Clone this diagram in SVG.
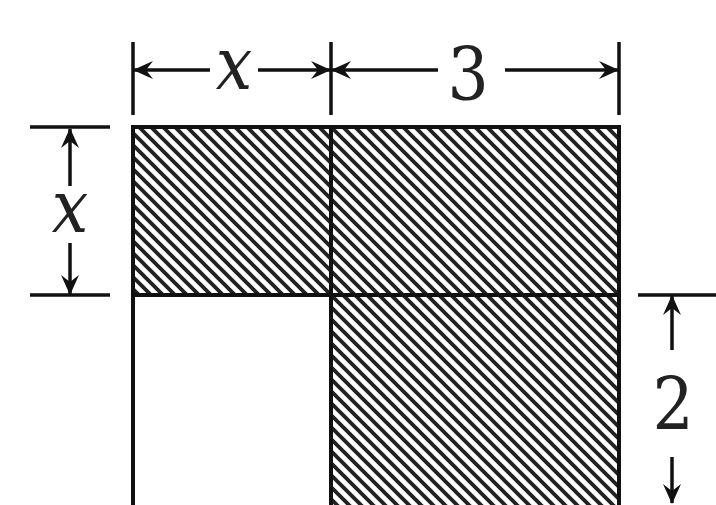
<svg xmlns="http://www.w3.org/2000/svg" width="716" height="505" viewBox="0 0 716 505">
<style>
.ln{stroke:#111;stroke-width:4;fill:none}
.tk{stroke:#111;stroke-width:3.5;fill:none}
.ar{stroke:#111;stroke-width:3.5;fill:none;marker-end:url(#ah)}
.lbl{font-family:"DejaVu Serif Condensed","DejaVu Serif",serif;font-stretch:condensed;font-size:72px;fill:#222;text-anchor:middle;font-weight:normal}
</style>
<defs>
<pattern id="hatch" patternUnits="userSpaceOnUse" width="12" height="12">
<rect width="12" height="12" fill="#fff"/>
<path d="M0,0 L12,12 M-2,10 L2,14 M10,-2 L14,2" stroke="#222" stroke-width="3.8"/>
</pattern>
<marker id="ah" viewBox="0 0 20 20" refX="19" refY="10" markerWidth="20" markerHeight="20" markerUnits="userSpaceOnUse" orient="auto">
<path d="M0,1 L20,10 L0,19 L7,10 Z" fill="#111"/>
</marker>
</defs>
<g id="region-top-left"><rect x="133" y="127" width="198" height="168" fill="url(#hatch)"/></g>
<g id="region-top-right"><rect x="331" y="127" width="288" height="168" fill="url(#hatch)"/></g>
<g id="region-bottom-right"><rect x="331" y="295" width="288" height="215" fill="url(#hatch)"/></g>
<g id="region-bottom-left"><rect x="133" y="295" width="198" height="215" fill="#fff"/></g>
<g id="outline">
<path class="ln" d="M133,510 V127 H619 V510"/>
<path class="ln" d="M133,295 H619"/>
<path class="ln" d="M331,127 V510"/>
</g>
<g id="connectors">
<path class="tk" d="M133,42 V115 M331,42 V115 M619,42 V115"/>
<path class="ar" d="M210,70 H134"/>
<path class="ar" d="M258,70 H330"/>
<path class="ar" d="M438,70 H332"/>
<path class="ar" d="M505,70 H618"/>
<path class="tk" d="M30,127 H110 M30,295 H110"/>
<path class="ar" d="M70,186 V129"/>
<path class="ar" d="M70,243 V294"/>
<path class="tk" d="M638,295 H716"/>
<path class="ar" d="M672,350 V296"/>
<path class="ar" d="M672,457 V503"/>
</g>
<g id="labels">
<text class="lbl" font-style="italic" x="234" y="89">x</text>
<text class="lbl" x="468" y="100">3</text>
<text class="lbl" font-style="italic" x="70" y="232">x</text>
<text class="lbl" x="673" y="430">2</text>
</g>
</svg>
